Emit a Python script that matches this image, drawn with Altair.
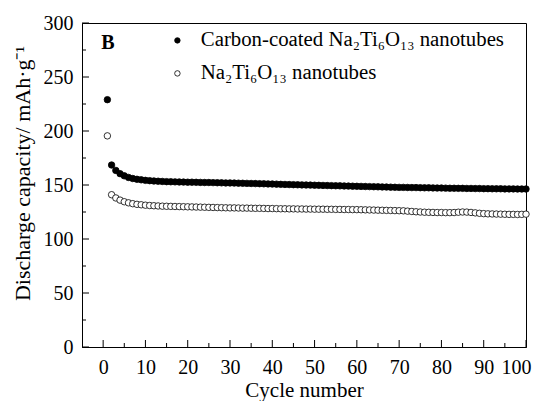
import altair as alt
import pandas as pd

cycles = list(range(1, 101))

carbon_coated = [
    229.0, 168.5, 163.5, 160.5, 158.5, 157.0, 156.0, 155.3, 154.8, 154.3,
    154.0, 153.7, 153.5, 153.3, 153.1, 153.0, 152.9, 152.8, 152.7, 152.6,
    152.6, 152.5, 152.4, 152.3, 152.3, 152.2, 152.1, 152.0, 151.9, 151.9,
    151.8, 151.7, 151.6, 151.5, 151.4, 151.3, 151.2, 151.1, 151.0, 150.9,
    150.8, 150.6, 150.5, 150.4, 150.3, 150.2, 150.1, 150.0, 149.9, 149.8,
    149.7, 149.6, 149.5, 149.4, 149.3, 149.2, 149.1, 149.0, 148.9, 148.8,
    148.7, 148.6, 148.5, 148.4, 148.3, 148.2, 148.1, 148.0, 147.9, 147.8,
    147.8, 147.7, 147.6, 147.6, 147.5, 147.4, 147.4, 147.3, 147.2, 147.2,
    147.1, 147.0, 147.0, 146.9, 146.9, 146.8, 146.8, 146.7, 146.7, 146.6,
    146.6, 146.5, 146.5, 146.5, 146.4, 146.4, 146.4, 146.3, 146.3, 146.3,
]

plain = [
    195.5, 141.0, 138.0, 136.0, 134.5, 133.5, 132.7, 132.1, 131.7, 131.3,
    131.0, 130.8, 130.6, 130.4, 130.3, 130.2, 130.1, 130.0, 129.9, 129.8,
    129.7, 129.6, 129.5, 129.4, 129.3, 129.2, 129.1, 129.0, 128.9, 128.8,
    128.8, 128.7, 128.6, 128.6, 128.5, 128.4, 128.4, 128.3, 128.2, 128.2,
    128.1, 128.0, 128.0, 127.9, 127.9, 127.8, 127.8, 127.7, 127.7, 127.6,
    127.6, 127.6, 127.5, 127.5, 127.4, 127.4, 127.3, 127.3, 127.2, 127.2,
    127.1, 127.0, 126.9, 126.8, 126.7, 126.6, 126.5, 126.4, 126.3, 126.2,
    126.1, 125.8, 125.5, 125.2, 125.0, 124.8, 124.7, 124.6, 124.5, 124.5,
    124.4, 124.4, 124.5, 124.8, 125.0, 124.9, 124.6, 124.2, 123.8, 123.5,
    123.3, 123.2, 123.1, 123.0, 122.9, 122.8, 122.8, 122.7, 122.8, 123.0,
]

series_names = ["Carbon-coated Na\u2082Ti\u2086O\u2081\u2083 nanotubes",
                "Na\u2082Ti\u2086O\u2081\u2083 nanotubes"]
series_fills = ["black", "white"]

x_major = [0, 10, 20, 30, 40, 50, 60, 70, 80, 90, 100]
x_minor = [5, 15, 25, 35, 45, 55, 65, 75, 85, 95]
y_major = [0, 50, 100, 150, 200, 250, 300]
y_minor = [25, 75, 125, 175, 225, 275]

panel_label = "B"
x_title = "Cycle number"
y_title = "Discharge capacity/ mAh\u00b7g\u207b\u00b9"

W, H = 444, 324
FONT = "'Times New Roman', 'Liberation Serif', Times, serif"

df = pd.DataFrame({
    "cycle": cycles * 2,
    "capacity": carbon_coated + plain,
    "series": [series_names[0]] * len(cycles) + [series_names[1]] * len(cycles),
})

xscale = alt.Scale(domain=[-5, 100], nice=False, zero=False)
yscale = alt.Scale(domain=[0, 300], nice=False)

points = alt.Chart(df).mark_point(
    shape="circle", filled=True, stroke="black", strokeWidth=0.8, size=42, opacity=1
).encode(
    x=alt.X("cycle:Q", scale=xscale,
            axis=alt.Axis(values=x_major, title=x_title, ticks=False, tickSize=0,
                          labelPadding=10, grid=False, domainColor="black",
                          labelFlush=True, labelFlushOffset=5, labelOverlap=False,
                          titleX=W / 2, titleY=49, titleBaseline="alphabetic",
                          titleFontWeight="normal")),
    y=alt.Y("capacity:Q", scale=yscale,
            axis=alt.Axis(values=y_major, title=y_title, ticks=False, tickSize=0,
                          labelPadding=9, grid=False, domainColor="black",
                          labelFlush=False, labelOverlap=False,
                          titleX=-53, titleY=150, titleBaseline="alphabetic",
                          titleAlign="center", titleAngle=-90, titleFontSize=22,
                          titleFontWeight="normal")),
    fill=alt.Fill("series:N",
                  scale=alt.Scale(domain=series_names, range=series_fills),
                  sort=series_names,
                  legend=alt.Legend(title=None, orient="none", legendX=85, legendY=7,
                                    padding=0, symbolType="circle", symbolSize=30,
                                    symbolStrokeColor="black", symbolStrokeWidth=0.8,
                                    labelFont=FONT, labelFontSize=20.8, labelOffset=13,
                                    rowPadding=11, labelLimit=420)),
)

xmaj_df = pd.DataFrame({"v": x_major})
xmin_df = pd.DataFrame({"v": x_minor})
ymaj_df = pd.DataFrame({"v": y_major})
ymin_df = pd.DataFrame({"v": y_minor})

xmaj = alt.Chart(xmaj_df).mark_rule(color="black", strokeWidth=1).encode(
    x=alt.X("v:Q", scale=xscale), y=alt.value(H), y2=alt.value(H - 7))
xmin = alt.Chart(xmin_df).mark_rule(color="black", strokeWidth=1).encode(
    x=alt.X("v:Q", scale=xscale), y=alt.value(H), y2=alt.value(H - 4))
ymaj = alt.Chart(ymaj_df).mark_rule(color="black", strokeWidth=1).encode(
    y=alt.Y("v:Q", scale=yscale), x=alt.value(0), x2=alt.value(7))
ymin = alt.Chart(ymin_df).mark_rule(color="black", strokeWidth=1).encode(
    y=alt.Y("v:Q", scale=yscale), x=alt.value(0), x2=alt.value(4))

label_b = alt.Chart(pd.DataFrame({"t": [panel_label]})).mark_text(
    font=FONT, fontSize=20, fontWeight="bold", align="center", baseline="middle",
    color="black"
).encode(text="t:N", x=alt.value(26), y=alt.value(20))

chart = alt.layer(xmaj, xmin, ymaj, ymin, points, label_b).properties(
    width=W, height=H,
    autosize=alt.AutoSizeParams(type="none"),
    padding={"left": 74, "top": 15, "right": 6, "bottom": 54},
).configure(
    font=FONT,
).configure_view(
    stroke="black", strokeWidth=1,
).configure_axis(
    labelFont=FONT, labelFontSize=20, labelColor="black",
    titleFont=FONT, titleFontSize=21, titleColor="black",
    domainWidth=1,
)

chart.save("out.html", embed_options={"renderer": "svg", "actions": False})
